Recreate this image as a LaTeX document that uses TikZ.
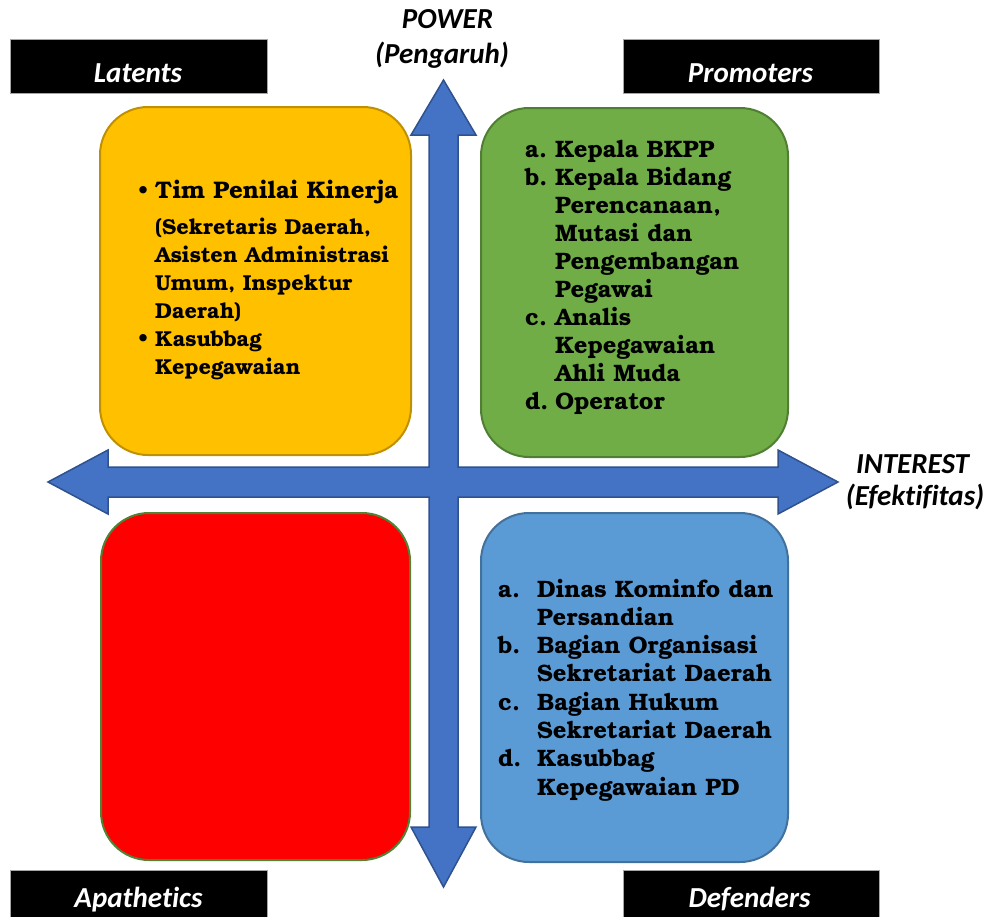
\documentclass[tikz,border=0pt]{standalone}
\usepackage{fontspec}
\setmainfont{TeX Gyre Bonum}
\newfontfamily\labfont{Carlito}[Ligatures=NoCommon]
\usepackage{array}
\definecolor{cyel}{HTML}{FFC000}
\definecolor{cyelb}{HTML}{BF9000}
\definecolor{cgrn}{HTML}{70AD47}
\definecolor{cgrnb}{HTML}{507E32}
\definecolor{cred}{HTML}{FF0000}
\definecolor{credb}{HTML}{548235}
\definecolor{cblu}{HTML}{5B9BD5}
\definecolor{cblub}{HTML}{41719C}
\definecolor{carr}{HTML}{4472C4}
\definecolor{carrb}{HTML}{2F528F}
\begin{document}
\begin{tikzpicture}[x=1pt,y=-1pt,
  qbox/.style={rectangle, rounded corners=48pt, line width=2pt, inner sep=0pt},
  blackbox/.style={rectangle, fill=black, draw=gray!70, line width=0.8pt, inner sep=0pt},
  lab/.style={text=white, font=\labfont\bfseries\itshape\fontsize{29}{34}\selectfont, inner sep=0pt, anchor=base},
  axlab/.style={text=black, font=\labfont\bfseries\itshape\fontsize{29}{34}\selectfont, inner sep=0pt, anchor=base},
  txt/.style={font=\bfseries\fontsize{23.8}{28}\selectfont, inner sep=0pt, anchor=base west, align=left},
  arrowshape/.style={fill=carr, draw=carrb, line width=1.5pt, line join=miter}
]
\useasboundingbox (0,0) rectangle (990,916);

% quadrant boxes
\node[qbox, fill=cyel, draw=cyelb, minimum width=311pt, minimum height=348pt] (latbox) at (255.5,281) {};
\node[qbox, fill=cgrn, draw=cgrnb, minimum width=307pt, minimum height=349pt] (probox) at (634.5,282.5) {};
\node[qbox, fill=cred, draw=credb, minimum width=309pt, minimum height=347pt] (apabox) at (255.5,686.5) {};
\node[qbox, fill=cblu, draw=cblub, minimum width=307pt, minimum height=349pt] (defbox) at (634.5,687.5) {};

% quad arrow
\draw[arrowshape] (443.5,80) -- (476,135) -- (458,135) -- (458,467) -- (778,467) -- (778,450)
  -- (838,482) -- (778,514) -- (778,497) -- (458,497) -- (458,827) -- (476,827)
  -- (443.5,887) -- (411,827) -- (429,827) -- (429,497) -- (108,497) -- (108,514)
  -- (48,482) -- (108,450) -- (108,467) -- (429,467) -- (429,135) -- (411,135) -- cycle;

% corner labels
\node[blackbox, minimum width=257pt, minimum height=54pt] (latlab) at (138.5,66) {};
\node[lab] (lattext) at (138,82) {Latents};
\node[blackbox, minimum width=256pt, minimum height=54pt] (prolab) at (751,66) {};
\node[lab] (protext) at (750.5,82) {Promoters};
\node[blackbox, minimum width=257pt, minimum height=60pt] (apalab) at (138.5,900) {};
\node[lab] (apatext) at (138.5,907) {Apathetics};
\node[blackbox, minimum width=256pt, minimum height=60pt] (deflab) at (751,900) {};
\node[lab] (deftext) at (749.5,907) {Defenders};

% axis labels
\node[axlab] (power) at (447.5,28) {POWER};
\node[axlab] (pengaruh) at (442,63) {(Pengaruh)};
\node[axlab] (interest) at (912.5,473) {INTEREST};
\node[axlab] (efek) at (915,505) {(Efektifitas)};

% texts
\node[txt, font=\bfseries\fontsize{21.6}{28}\selectfont] (lattxt) at (138,198) {\begin{tabular}[t]{@{}p{17pt}@{}l@{}}
\textbullet & {\fontsize{24}{28}\selectfont Tim Penilai Kinerja}\\[8pt]
 & (Sekretaris Daerah,\\
 & Asisten Administrasi\\
 & Umum, Inspektur\\
 & Daerah)\\
\textbullet & Kasubbag\\
 & Kepegawaian
\end{tabular}};

\node[txt] (protxt) at (525,157) {\begin{tabular}[t]{@{}p{30pt}@{}l@{}}
a. & Kepala BKPP\\
b. & Kepala Bidang\\
 & Perencanaan,\\
 & Mutasi dan\\
 & Pengembangan\\
 & Pegawai\\
c. & Analis\\
 & Kepegawaian\\
 & Ahli Muda\\
d. & Operator
\end{tabular}};

\node[txt, font=\bfseries\fontsize{23.8}{28.3}\selectfont] (deftxt) at (498,597) {\begin{tabular}[t]{@{}p{39pt}@{}l@{}}
a. & Dinas Kominfo dan\\
 & Persandian\\
b. & Bagian Organisasi\\
 & Sekretariat Daerah\\
c. & Bagian Hukum\\
 & Sekretariat Daerah\\
d. & Kasubbag\\
 & Kepegawaian PD
\end{tabular}};
\end{tikzpicture}
\end{document}
